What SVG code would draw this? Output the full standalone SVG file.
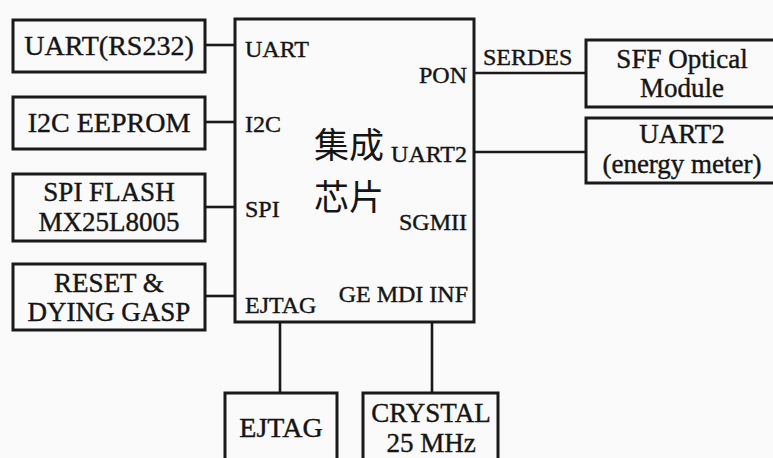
<svg xmlns="http://www.w3.org/2000/svg" width="773" height="458" viewBox="0 0 773 458">
<style>
.box{fill:none;stroke:#1a1a1a;stroke-width:3}
.ln{fill:none;stroke:#1a1a1a;stroke-width:2.6}
text{font-family:"Liberation Serif","Noto Sans CJK SC",serif;fill:#151515;stroke:#151515;stroke-width:0.4}
.b{font-size:28px;text-anchor:middle}
.t{font-size:27px;text-anchor:middle}
.p{font-size:24px}
.r{text-anchor:end}
.cn{font-family:"Noto Sans CJK SC","Liberation Serif",serif;font-size:35px;stroke-width:0}
</style>
<rect width="773" height="458" fill="#fafafa"/>
<g id="connectors">
<line class="ln" x1="205" y1="45" x2="235" y2="45"/>
<line class="ln" x1="205" y1="122" x2="235" y2="122"/>
<line class="ln" x1="205" y1="207" x2="235" y2="207"/>
<line class="ln" x1="205" y1="296" x2="235" y2="296"/>
<line class="ln" x1="474" y1="73" x2="586" y2="73"/>
<text class="p" x="483" y="65">SERDES</text>
<line class="ln" x1="474" y1="152" x2="586" y2="152"/>
<line class="ln" x1="280" y1="322" x2="280" y2="393"/>
<line class="ln" x1="432" y1="322" x2="432" y2="393"/>
</g>
<g id="chip">
<rect class="box" x="235" y="19" width="239" height="303"/>
<text class="p" x="245" y="57">UART</text>
<text class="p r" x="467" y="83">PON</text>
<text class="p" x="245" y="132">I2C</text>
<text class="cn" x="314" y="158">集成</text>
<text class="p r" x="467" y="162">UART2</text>
<text class="cn" x="314" y="210">芯片</text>
<text class="p" x="245" y="217">SPI</text>
<text class="p r" x="467" y="230">SGMII</text>
<text class="p" x="245" y="313">EJTAG</text>
<text class="p r" x="468" y="302">GE MDI INF</text>
</g>
<g id="uart-rs232">
<rect class="box" x="13" y="20" width="192" height="52"/>
<text class="b" x="109" y="55">UART(RS232)</text>
</g>
<g id="i2c-eeprom">
<rect class="box" x="13" y="97" width="192" height="52"/>
<text class="b" x="109" y="132">I2C EEPROM</text>
</g>
<g id="spi-flash">
<rect class="box" x="13" y="174" width="192" height="67"/>
<text class="t" x="109" y="201">SPI FLASH</text>
<text class="t" x="109" y="231">MX25L8005</text>
</g>
<g id="reset">
<rect class="box" x="13" y="264" width="192" height="66"/>
<text class="t" x="109" y="292">RESET &amp;</text>
<text class="t" x="109" y="321">DYING GASP</text>
</g>
<g id="sff">
<rect class="box" x="586" y="40" width="192" height="67"/>
<text class="t" x="682" y="68">SFF Optical</text>
<text class="t" x="682" y="97">Module</text>
</g>
<g id="uart2">
<rect class="box" x="586" y="118" width="192" height="65"/>
<text class="t" x="682" y="143">UART2</text>
<text class="t" x="682" y="173">(energy meter)</text>
</g>
<g id="ejtag">
<rect class="box" x="225" y="393" width="112" height="80"/>
<text class="b" x="281" y="437">EJTAG</text>
</g>
<g id="crystal">
<rect class="box" x="363" y="393" width="135" height="80"/>
<text class="t" x="431" y="422">CRYSTAL</text>
<text class="t" x="431" y="452">25 MHz</text>
</g>
</svg>
